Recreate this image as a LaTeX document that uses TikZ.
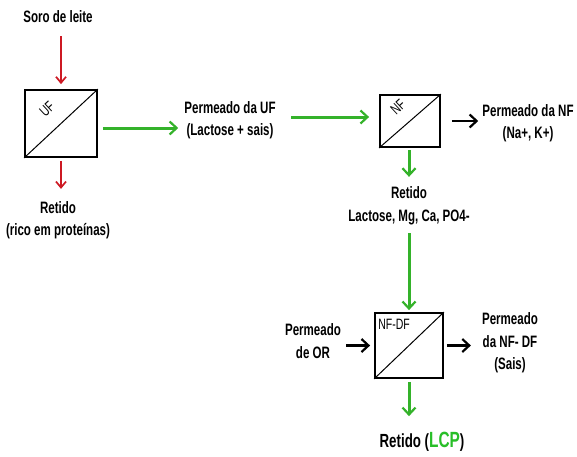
\documentclass[tikz,border=0pt]{standalone}
\usepackage{fontspec}
\setmainfont{Liberation Sans}[FakeStretch=0.7]
\usetikzlibrary{arrows.meta}
\definecolor{gr}{RGB}{52,178,42}
\definecolor{lcp}{RGB}{40,190,40}
\definecolor{rd}{RGB}{205,25,35}
\begin{document}
\begin{tikzpicture}[x=1pt,y=-1pt,
  lbl/.style={font=\bfseries\fontsize{16.5}{22.5}\selectfont, align=center, inner sep=0pt},
  inlbl/.style={font=\fontsize{15}{16}\selectfont, inner sep=0pt},
  procbox/.style={draw, line width=1.8pt, inner sep=0pt, fill=white},
  tip/.style={-{Straight Barb[length=7pt,width=13pt,line width=2.2pt]}},
  ga/.style={draw=gr, line width=3pt, tip},
  ra/.style={draw=rd, line width=1.7pt, -{Straight Barb[length=6pt,width=10pt,line width=1.7pt]}},
  ka/.style={draw=black, line width=2.6pt, tip}]
\useasboundingbox (0,0) rectangle (577,456);

% UF stage
\node[lbl] (soro) at (58,17) {Soro de leite};
\node[procbox, minimum width=72pt, minimum height=67pt] (uf) at (61,123.5) {};
\draw[line width=1pt] (uf.south west) -- (uf.north east);
\node[inlbl, rotate=43] (uft) at (47,109) {UF};
\draw[ra, shorten <=13pt, shorten >=5pt] (soro.south -| uf.north) -- (uf.north);
\node[lbl] (ret1) at (58,220) {Retido\\(rico em proteínas)};
\draw[ra, shorten <=3pt, shorten >=12pt] (uf.south) -- (uf.south |- ret1.north);

% Permeado UF
\node[lbl] (puf) at (230,120) {Permeado da UF\\(Lactose + sais)};
\coordinate (a1) at ([yshift=-4.5pt]uf.east);
\draw[ga, shorten <=5pt, shorten >=6pt] (a1) -- (a1 -| puf.west);

% NF stage
\node[procbox, minimum width=60pt, minimum height=52pt] (nf) at (410,121) {};
\draw[line width=1pt] (nf.south west) -- (nf.north east);
\node[inlbl, rotate=43] (nft) at (398,107) {NF};
\coordinate (a2) at ([yshift=3pt]puf.east);
\draw[ga, shorten <=15pt, shorten >=10pt] (a2) -- (a2 -| nf.west);
\node[lbl] (pnf) at (528,123) {Permeado da NF\\(Na+, K+)};
\draw[ka, shorten <=11pt, shorten >=4pt] (nf.east) -- (nf.east -| pnf.west);
\node[lbl] (rnf) at (409,206) {Retido\\Lactose, Mg, Ca, PO4-};
\draw[ga, shorten <=2pt, shorten >=10pt] (nf.south -| rnf.north) -- (rnf.north);

% NF-DF stage
\node[procbox, minimum width=68pt, minimum height=65pt] (nfdf) at (409,345.5) {};
\draw[line width=1pt] (nfdf.south west) -- (nfdf.north east);
\node[inlbl, anchor=north west] (nfdft) at ([xshift=4pt,yshift=-7pt]nfdf.north west) {NF-DF};
\draw[ga, shorten <=8pt, shorten >=2pt] (rnf.south) -- (rnf.south |- nfdf.north);
\node[lbl] (por) at (313,341) {Permeado\\de OR};
\draw[ka, shorten <=5pt, shorten >=4pt] (por.east |- nfdf.west) -- (nfdf.west);
\node[lbl] (pdf) at (510,343) {Permeado\\da NF- DF\\(Sais)};
\draw[ka, shorten <=3pt, shorten >=11pt] (nfdf.east) -- (nfdf.east -| pdf.west);
\node[lbl, font=\bfseries\fontsize{19}{22}\selectfont] (rlcp) at (422,442) {Retido (\textcolor{lcp}{\fontsize{22}{24}\selectfont LCP})};
\draw[ga, shorten <=3pt, shorten >=16pt] (nfdf.south) -- (nfdf.south |- rlcp.north);
\end{tikzpicture}
\end{document}
